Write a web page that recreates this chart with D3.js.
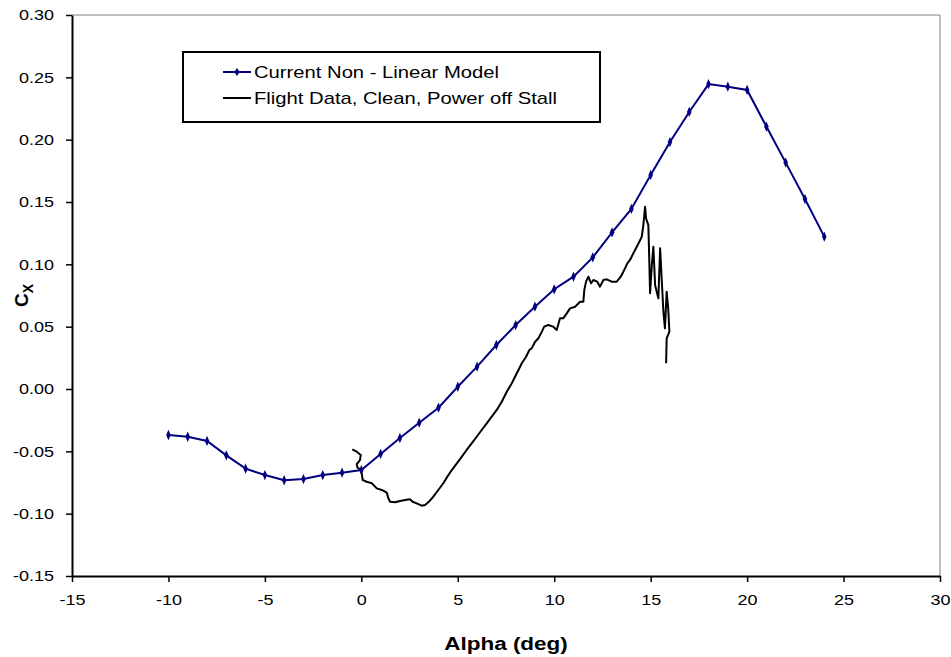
<!DOCTYPE html>
<html>
<head>
<meta charset="utf-8">
<script src="https://cdn.jsdelivr.net/npm/d3@7"></script>
<style>
  body { margin: 0; background: #fff; }
  svg { font-family: "Liberation Sans", Arial, sans-serif; }
  .axis path, .axis line { stroke: #000; }
  .axis text { font-size: 15px; fill: #000; }
</style>
</head>
<body>
<script>
// model curve, one point per degree
var modelAlpha = [-10, -9, -8, -7, -6, -5, -4, -3, -2, -1, 0, 1, 2, 3, 4, 5, 6, 7, 8, 9, 10, 11, 12,
                  13, 14, 15, 16, 17, 18, 19, 20, 21, 22, 23, 24];
var modelCx = [-0.0369, -0.0383, -0.0417, -0.0532, -0.0639, -0.0690, -0.0732, -0.0722, -0.0690, -0.0671,
               -0.0650, -0.0521, -0.0393, -0.0270, -0.0150, 0.0018, 0.0179, 0.0353, 0.0513, 0.0660,
               0.0800, 0.0901, 0.1056, 0.1257, 0.1444, 0.1717, 0.1981, 0.2222, 0.2446, 0.2425,
               0.2399, 0.2105, 0.1816, 0.1524, 0.1222];

// flight data
var flightAlpha = [-0.47, -0.24, -0.03, -0.07, -0.24, -0.21, -0.03, 0.02, 0.07, 0.28, 0.54, 0.80, 1.06, 1.32,
                   1.40, 1.49, 1.75, 2.01, 2.27, 2.52, 2.66, 2.87, 3.13, 3.30, 3.47, 3.73, 3.99, 4.25, 4.46,
                   4.69, 4.95, 5.21, 5.46, 5.72, 5.98, 6.24, 6.50, 6.76, 7.02, 7.28, 7.54, 7.80, 8.06, 8.32,
                   8.54, 8.71, 8.83, 9.01, 9.18, 9.36, 9.48, 9.69, 9.95, 10.13, 10.30, 10.47, 10.65, 10.82,
                   11.08, 11.34, 11.51, 11.56, 11.65, 11.77, 11.91, 12.03, 12.23, 12.37, 12.55, 12.72, 12.98,
                   13.24, 13.38, 13.50, 13.67, 13.79, 13.93, 14.10, 14.28, 14.41, 14.54, 14.62, 14.71, 14.76,
                   14.88, 14.93, 14.97, 15.06, 15.14, 15.23, 15.31, 15.40, 15.49, 15.57, 15.66, 15.74, 15.83,
                   15.91, 15.97, 15.83, 15.80];
var flightCx = [-0.0484, -0.0503, -0.0529, -0.0570, -0.0602, -0.0628, -0.0650, -0.0676, -0.0730, -0.0744,
                -0.0756, -0.0797, -0.0810, -0.0832, -0.0877, -0.0904, -0.0909, -0.0898, -0.0890, -0.0885,
                -0.0904, -0.0917, -0.0936, -0.0930, -0.0909, -0.0864, -0.0810, -0.0756, -0.0703, -0.0650,
                -0.0596, -0.0543, -0.0489, -0.0436, -0.0383, -0.0329, -0.0275, -0.0222, -0.0168, -0.0102,
                -0.0022, 0.0046, 0.0126, 0.0206, 0.0259, 0.0313, 0.0326, 0.0379, 0.0407, 0.0460, 0.0500,
                0.0513, 0.0500, 0.0473, 0.0567, 0.0567, 0.0607, 0.0647, 0.0660, 0.0700, 0.0700, 0.0794,
                0.0861, 0.0901, 0.0848, 0.0874, 0.0861, 0.0821, 0.0874, 0.0880, 0.0861, 0.0861, 0.0888,
                0.0914, 0.0968, 0.1008, 0.1035, 0.1088, 0.1141, 0.1181, 0.1222, 0.1315, 0.1462, 0.1369,
                0.1315, 0.1021, 0.0768, 0.0995, 0.1141, 0.0834, 0.0781, 0.0727, 0.1129, 0.0888, 0.0620,
                0.0487, 0.0781, 0.0647, 0.0460, 0.0407, 0.0206];

var xTicks = [-15, -10, -5, 0, 5, 10, 15, 20, 25, 30];
var yTicks = [-0.15, -0.10, -0.05, 0.00, 0.05, 0.10, 0.15, 0.20, 0.25, 0.30];

var seriesNames = ["Current Non - Linear Model", "Flight Data, Clean, Power off Stall"];

var width = 951, height = 657;
var margin = {top: 15, right: 11, bottom: 81, left: 72};
var stretch = 1.2; // text in the original is drawn a bit wide

var x = d3.scaleLinear().domain([-15, 30]).range([margin.left, width - margin.right]);
var y = d3.scaleLinear().domain([-0.15, 0.30]).range([height - margin.bottom, margin.top]);

var svg = d3.select("body").append("svg")
    .attr("width", width)
    .attr("height", height);

// widen a text element around its own anchor point
function widen(sel, sx) {
  sel.each(function() {
    var t = d3.select(this);
    var tx = +t.attr("x") || 0, ty = +t.attr("y") || 0;
    t.attr("x", 0).attr("y", 0)
     .attr("transform", "translate(" + tx + "," + ty + ") scale(" + sx + ",1)");
  });
}

// plot border (top / right in grey)
svg.append("path")
    .attr("d", "M" + x(-15) + "," + y(0.30) + "H" + x(30) + "V" + y(-0.15))
    .attr("fill", "none")
    .attr("stroke", "#808080")
    .attr("stroke-width", 1);

// axis-x
svg.append("g")
    .attr("class", "axis axis--x")
    .attr("transform", "translate(0," + y(-0.15) + ")")
    .call(d3.axisBottom(x).tickValues(xTicks).tickSize(6).tickSizeOuter(0).tickPadding(12)
      .tickFormat(function(d) { return String(d); }))
    .call(function(g) { g.select(".domain").attr("stroke-width", 2); })
    .call(function(g) { g.selectAll(".tick line").attr("stroke-width", 1.5); })
    .call(function(g) { widen(g.selectAll(".tick text"), stretch); });

// axis-y
svg.append("g")
    .attr("class", "axis axis--y")
    .attr("transform", "translate(" + x(-15) + ",0)")
    .call(d3.axisLeft(y).tickValues(yTicks).tickSize(6).tickSizeOuter(0).tickPadding(12)
      .tickFormat(function(d) { return d.toFixed(2); }))
    .call(function(g) { g.select(".domain").attr("stroke-width", 2); })
    .call(function(g) { g.selectAll(".tick line").attr("stroke-width", 1.5); })
    .call(function(g) { widen(g.selectAll(".tick text"), stretch); });

// axis titles
svg.append("text")
    .attr("x", (x(-15) + x(30)) / 2)
    .attr("y", 650)
    .attr("text-anchor", "middle")
    .attr("font-size", "18px")
    .attr("font-weight", "bold")
    .text("Alpha (deg)")
    .call(widen, 1.25);

var yTitle = svg.append("text")
    .attr("transform", "translate(28," + y(0.075) + ") rotate(-90)")
    .attr("text-anchor", "middle")
    .attr("font-size", "19px")
    .attr("font-weight", "bold");
yTitle.append("tspan").text("C");
yTitle.append("tspan").attr("dy", 5).attr("font-size", "14px").text("X");

var model = modelAlpha.map(function(a, i) { return [a, modelCx[i]]; });
var flight = flightAlpha.map(function(a, i) { return [a, flightCx[i]]; });

var line = d3.line()
    .x(function(d) { return x(d[0]); })
    .y(function(d) { return y(d[1]); });

// flight data
svg.append("path")
    .attr("d", line(flight))
    .attr("fill", "none")
    .attr("stroke", "#000")
    .attr("stroke-width", 2)
    .attr("stroke-linejoin", "round");

// model line
svg.append("path")
    .attr("d", line(model))
    .attr("fill", "none")
    .attr("stroke", "#000080")
    .attr("stroke-width", 2);

var diamond = d3.symbol().type(d3.symbolDiamond).size(18);

svg.selectAll(".dot")
    .data(model)
    .enter().append("path")
    .attr("class", "dot")
    .attr("transform", function(d) { return "translate(" + x(d[0]) + "," + y(d[1]) + ") scale(1,1.3)"; })
    .attr("d", diamond)
    .attr("fill", "#000080");

// legend
var legend = svg.append("g");
legend.append("rect")
    .attr("x", 183).attr("y", 52)
    .attr("width", 417).attr("height", 70)
    .attr("fill", "#fff")
    .attr("stroke", "#000")
    .attr("stroke-width", 2);

var rows = legend.selectAll(".row")
    .data(seriesNames)
    .enter().append("g")
    .attr("class", "row")
    .attr("transform", function(d, i) { return "translate(223," + (72 + i * 26) + ")"; });

rows.append("line")
    .attr("x1", 0).attr("x2", 28)
    .attr("stroke", function(d, i) { return i === 0 ? "#000080" : "#000"; })
    .attr("stroke-width", 2);

rows.filter(function(d, i) { return i === 0; })
    .append("path")
    .attr("transform", "translate(14,0) scale(1.2,1)")
    .attr("d", diamond)
    .attr("fill", "#000080");

rows.append("text")
    .attr("x", 31)
    .attr("y", 6)
    .attr("font-size", "17px")
    .text(function(d) { return d; })
    .call(widen, 1.19);
</script>
</body>
</html>
